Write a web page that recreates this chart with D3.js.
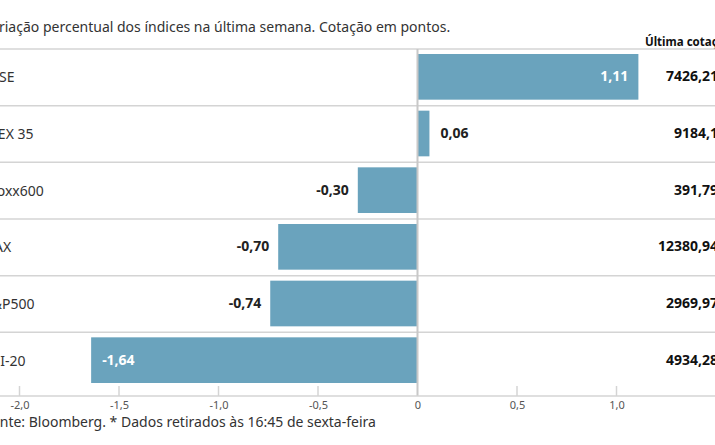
<!DOCTYPE html>
<html>
<body style="margin:0">
<meta charset="UTF-8">
<title>Variação semanal dos índices</title>
<style>
    body {
        font-family: "Noto Sans", sans-serif;
        background: white;
    }
</style>
<script src="https://d3js.org/d3.v7.min.js"></script>
<script>

    var indices = ["FTSE", "IBEX 35", "Stoxx600", "DAX", "S&P500", "PSI-20"];
    var variacao = [1.11, 0.06, -0.30, -0.70, -0.74, -1.64];
    var cotacao = ["7426,21", "9184,1", "391,79", "12380,94", "2969,97", "4934,28"];
    var ticks = [-2, -1.5, -1, -0.5, 0, 0.5, 1];

    var width = 715,
        height = 445;

    var fmt = function(v) { return d3.format(".2f")(v).replace(".", ",").replace("\u2212", "-"); };
    var fmtTick = function(v) {
        if (v === 0) return "0";
        return d3.format(".1f")(v).replace(".", ",").replace("\u2212", "-");
    };

    var svg = d3.select("body")
        .append("svg")
        .attr("width", width)
        .attr("height", height);

    var x = d3.scaleLinear()
        .domain([-2, 1.5])
        .range([19.5, 716]);

    var y = d3.scaleBand()
        .domain(indices)
        .range([49, 389]);

    var data = indices.map(function(d, i) {
        return { name: d, v: variacao[i], c: cotacao[i] };
    });

    // subtitulo
    svg.append("text")
        .attr("x", -17)
        .attr("y", 32)
        .style("font-size", "14px")
        .style("fill", "#333")
        .text("Variação percentual dos índices na última semana. Cotação em pontos.");

    svg.append("text")
        .attr("x", 645)
        .attr("y", 46)
        .style("font-size", "11.5px")
        .style("font-weight", "bold")
        .style("fill", "#111")
        .text("Última cotação*");

    // linhas das linhas
    svg.selectAll(".grid")
        .data(indices)
        .enter().append("line")
        .attr("class", "grid")
        .attr("x1", 0)
        .attr("x2", width)
        .attr("y1", function(d) { return y(d); })
        .attr("y2", function(d) { return y(d); })
        .style("stroke", "#d4d4d4")
        .style("stroke-width", 1.5);

    svg.selectAll(".bars")
        .data(data)
        .enter().append("rect")
        .attr("class", "bars")
        .attr("x", function(d) { return x(Math.min(0, d.v)); })
        .attr("width", function(d) { return Math.abs(x(d.v) - x(0)); })
        .attr("y", function(d) { return y(d.name) + 5; })
        .attr("height", y.bandwidth() - 11)
        .style("fill", "#6aa3bd");

    // eixo
    var axis = svg.append("g")
        .attr("transform", "translate(0,396)")
        .call(d3.axisBottom(x).tickValues(ticks).tickSize(0).tickFormat(fmtTick));
    axis.select(".domain").remove();
    axis.selectAll("text")
        .attr("dy", null)
        .attr("y", 13)
        .style("font-family", "Noto Sans, sans-serif")
        .style("font-size", "11px")
        .style("fill", "#555");

    svg.selectAll(".tick-mark")
        .data(ticks)
        .enter().append("line")
        .attr("x1", function(d) { return x(d); })
        .attr("x2", function(d) { return x(d); })
        .attr("y1", function(d) { return d === 0 ? 49 : 386; })
        .attr("y2", 396)
        .style("stroke", function(d) { return d === 0 ? "#c8c8c8" : "#d4d4d4"; })
        .style("stroke-width", function(d) { return d === 0 ? 2 : 1.5; });

    svg.append("line")
        .attr("x1", 0)
        .attr("x2", width)
        .attr("y1", 396)
        .attr("y2", 396)
        .style("stroke", "#d4d4d4")
        .style("stroke-width", 1.5);

    // nomes
    svg.selectAll(".name")
        .data(data)
        .enter().append("text")
        .attr("x", -16)
        .attr("y", function(d) { return y(d.name) + y.bandwidth() / 2; })
        .attr("dy", "0.35em")
        .style("font-size", "14px")
        .style("fill", "#333")
        .text(function(d) { return d.name; });

    // valores
    svg.selectAll(".val")
        .data(data)
        .enter().append("text")
        .attr("y", function(d) { return y(d.name) + y.bandwidth() / 2 - 1; })
        .attr("dy", "0.35em")
        .style("font-size", "14px")
        .style("font-weight", "bold")
        .each(function(d) {
            var inside = Math.abs(d.v) > 1;
            var t = d3.select(this);
            if (d.v >= 0) {
                t.attr("x", inside ? x(d.v) - 10 : x(d.v) + 11)
                 .attr("text-anchor", inside ? "end" : "start");
            } else {
                t.attr("x", inside ? x(d.v) + 11 : x(d.v) - 9)
                 .attr("text-anchor", inside ? "start" : "end");
            }
            t.style("fill", inside ? "white" : "#222");
        })
        .text(function(d) { return fmt(d.v); });

    svg.selectAll(".cot")
        .data(data)
        .enter().append("text")
        .attr("x", 718)
        .attr("y", function(d) { return y(d.name) + y.bandwidth() / 2 - 1; })
        .attr("dy", "0.35em")
        .attr("text-anchor", "end")
        .style("font-size", "14px")
        .style("font-weight", "bold")
        .style("fill", "#111")
        .text(function(d) { return d.c; });

    svg.append("text")
        .attr("x", -16)
        .attr("y", 427)
        .style("font-size", "14px")
        .style("fill", "#333")
        .text("Fonte: Bloomberg.  * Dados retirados às 16:45 de sexta-feira");

</script>
</body>
</html>
